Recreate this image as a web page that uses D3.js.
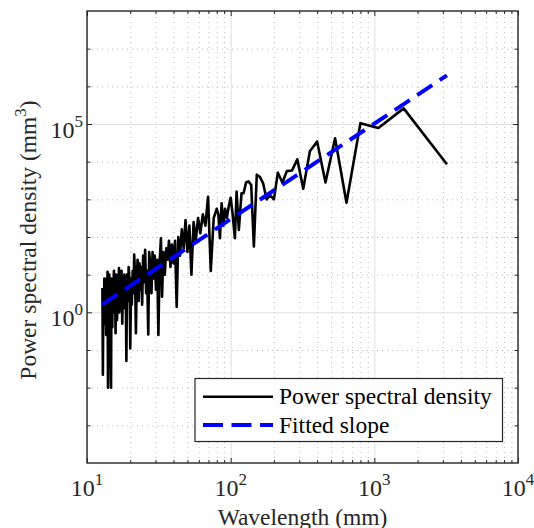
<!DOCTYPE html>
<html>
<head>
<meta charset="utf-8">
<script src="https://cdn.jsdelivr.net/npm/d3@7"></script>
<style>
  body { margin: 0; background: #fff; }
  svg text { font-family: "Liberation Serif", "Tinos", "DejaVu Serif", serif; fill: #262626; }
</style>
</head>
<body>
<div id="chart"></div>
<script>
// wavelength (mm) of each spectral estimate
var wavelength = [3200,1600,1067,800,640,533,457,400,356,320,291,267,246,229,213,200,188,178,168,160,
  152,145,139,133,128,123,119,114,110,107,103,100,97,94,91.4,88.9,86.5,84.2,82.1,80,
  76.2,72.7,69.6,66.7,64,61.5,59.3,57.1,55.2,53.3,51.6,50,48.5,47.1,45.7,44.4,43.2,42.1,41,40,
  39,38.1,37.2,36.4,35.6,34.8,34,33.3,32.7,32,31.4,30.8,30.2,29.6,29.1,28.6,28.1,27.6,27.1,26.7,
  26.2,25.8,25.4,25,24.6,24.2,23.9,23.5,23.2,22.9,22.5,22.2,21.9,21.6,21.3,21.1,20.8,20.5,20.3,20,
  19.8,19.5,19.3,19,18.8,18.6,18.4,18.2,18,17.8,17.6,17.4,17.2,17,16.8,16.7,16.5,16.3,16.2,16,
  15.8,15.7,15.5,15.4,15.2,15.1,15,14.8,14.7,14.5,14.4,14.3,14.2,14,13.9,13.8,13.7,13.6,13.4,13.3,
  13.2,13.1,13,12.9,12.8];

// power spectral density (mm^3)
var psd = [8.5e3,2.6e5,7.8e4,1.05e5,810,4.2e4,2.8e3,3.4e4,1.9e4,1.9e3,1.15e4,5.8e3,5.6e3,2.8e3,5.1e3,1.0e3,1.3e3,1.0e3,2.7e3,3.9e3,
  4.5e3,56,2.4e3,3.0e3,2.8e3,1.45e3,1.45e3,155,1.6e3,93,430,1.1e3,650,320,560,200,790,93,400,560,
  320,12.6,1170,200,400,126,320,79,250,10,200,40,280,50,160,32,100,1.4,79,20,
  63,16,79,25,50,10,40,2.6,93,20,0.25,25,4,32,7.9,40,3.2,16,40,0.26,
  12.6,3.2,46,6.3,32,1.6,16,4,20,2,25,7.9,0.28,10,34,3.2,12.6,1.6,7.9,0.11,
  6.3,16,2,10,0.051,5,1.26,10,2.5,7.9,0.5,12.6,1.6,6.3,1,15,2,7.9,0.63,10,
  0.28,5,1,12.6,2,6.3,0.4,7.9,0.01,4,0.63,10,1.26,0.01,12,2,7.9,0.25,6.3,1.6,
  7.9,0.5,3.2,0.022,4.4];

// fitted power-law slope (end points)
var fitWavelength = [12.8, 3200];
var fitPsd = [1.63, 1.95e6];

// ticks
var xTicks = [10, 100, 1000, 10000];
var xTickExp = ["1", "2", "3", "4"];
var yTicks = [1, 1e5];
var yTickExp = ["0", "5"];
var legendLabels = ["Power spectral density", "Fitted slope"];

var W = 534, H = 528;
var plotL = 87, plotR = 518, plotT = 11, plotB = 463;
var serif = '"Liberation Serif", "Tinos", "DejaVu Serif", serif';

var svg = d3.select("#chart").append("svg")
    .attr("width", W)
    .attr("height", H);

var x = d3.scaleLog().domain([10, 1e4]).range([plotL, plotR]);
var y = d3.scaleLog().domain([1e-4, 1e8]).range([plotB, plotT]);

// minor tick positions
var xMinor = [];
[10, 100, 1000].forEach(function(d) {
  for (var m = 2; m <= 9; m++) xMinor.push(d * m);
});
var yMinor = [];
for (var e = -3; e <= 7; e++) {
  if (e !== 0 && e !== 5) yMinor.push(Math.pow(10, e));
}

// grid
function grid(g, dash, color) {
  g.select(".domain").remove();
  g.selectAll("line").attr("stroke", color).attr("stroke-width", 1).attr("stroke-dasharray", dash);
}
svg.append("g")
  .attr("transform", "translate(0," + plotB + ")")
  .call(d3.axisBottom(x).tickValues(xMinor).tickSize(-(plotB - plotT)).tickFormat(""))
  .call(grid, "1,4", "#bdbdbd");
svg.append("g")
  .attr("transform", "translate(" + plotL + ",0)")
  .call(d3.axisLeft(y).tickValues(yMinor).tickSize(-(plotR - plotL)).tickFormat(""))
  .call(grid, "1,4", "#bdbdbd");
svg.append("g")
  .attr("transform", "translate(0," + plotB + ")")
  .call(d3.axisBottom(x).tickValues(xTicks).tickSize(-(plotB - plotT)).tickFormat(""))
  .call(grid, null, "#dfdfdf");
svg.append("g")
  .attr("transform", "translate(" + plotL + ",0)")
  .call(d3.axisLeft(y).tickValues(yTicks).tickSize(-(plotR - plotL)).tickFormat(""))
  .call(grid, null, "#dfdfdf");

// data
var pts = wavelength.map(function(d, i) { return [d, psd[i]]; });
var line = d3.line()
  .x(function(d) { return x(d[0]); })
  .y(function(d) { return y(d[1]); });

svg.append("path")
  .datum(pts)
  .attr("fill", "none")
  .attr("stroke", "#000")
  .attr("stroke-width", 2.6)
  .attr("stroke-linejoin", "round")
  .attr("d", line);

var fitPts = fitWavelength.map(function(d, i) { return [d, fitPsd[i]]; });
svg.append("path")
  .datum(fitPts)
  .attr("fill", "none")
  .attr("stroke", "#0000ff")
  .attr("stroke-width", 4)
  .attr("stroke-dasharray", "18,9")
  .attr("d", line);

// ticks (inside, on all four sides)
function ticks(g) {
  g.select(".domain").remove();
  g.selectAll("line").attr("stroke", "#262626").attr("stroke-width", 1);
}
svg.append("g").attr("transform", "translate(0," + plotB + ")")
  .call(d3.axisBottom(x).tickValues(xTicks).tickSize(-5).tickFormat("")).call(ticks);
svg.append("g").attr("transform", "translate(0," + plotB + ")")
  .call(d3.axisBottom(x).tickValues(xMinor).tickSize(-3).tickFormat("")).call(ticks);
svg.append("g").attr("transform", "translate(0," + plotT + ")")
  .call(d3.axisTop(x).tickValues(xTicks).tickSize(-5).tickFormat("")).call(ticks);
svg.append("g").attr("transform", "translate(0," + plotT + ")")
  .call(d3.axisTop(x).tickValues(xMinor).tickSize(-3).tickFormat("")).call(ticks);
svg.append("g").attr("transform", "translate(" + plotL + ",0)")
  .call(d3.axisLeft(y).tickValues(yTicks).tickSize(-5).tickFormat("")).call(ticks);
svg.append("g").attr("transform", "translate(" + plotL + ",0)")
  .call(d3.axisLeft(y).tickValues(yMinor).tickSize(-3.5).tickFormat("")).call(ticks);
svg.append("g").attr("transform", "translate(" + plotR + ",0)")
  .call(d3.axisRight(y).tickValues(yTicks).tickSize(-5).tickFormat("")).call(ticks);
svg.append("g").attr("transform", "translate(" + plotR + ",0)")
  .call(d3.axisRight(y).tickValues(yMinor).tickSize(-3.5).tickFormat("")).call(ticks);

// box
svg.append("rect")
  .attr("x", plotL).attr("y", plotT)
  .attr("width", plotR - plotL).attr("height", plotB - plotT)
  .attr("fill", "none")
  .attr("stroke", "#262626")
  .attr("stroke-width", 1.4);

// tick labels
xTicks.forEach(function(v, i) {
  var t = svg.append("text")
    .attr("x", x(v)).attr("y", plotB + 33)
    .attr("text-anchor", "middle")
    .attr("font-family", serif)
    .style("font-size", "24px");
  t.append("tspan").text("10");
  t.append("tspan").attr("dy", -11).style("font-size", "17px").text(xTickExp[i]);
});
yTicks.forEach(function(v, i) {
  var t = svg.append("text")
    .attr("x", plotL - 4).attr("y", y(v) + 14)
    .attr("text-anchor", "end")
    .attr("font-family", serif)
    .style("font-size", "24px");
  t.append("tspan").text("10");
  t.append("tspan").attr("dy", -11).style("font-size", "17px").text(yTickExp[i]);
});

// axis labels
svg.append("text")
  .attr("x", (plotL + plotR) / 2).attr("y", 525)
  .attr("text-anchor", "middle")
  .attr("font-family", serif)
  .style("font-size", "23.5px")
  .text("Wavelength (mm)");

var yl = svg.append("text")
  .attr("transform", "translate(36," + ((plotT + plotB) / 2 + 3) + ") rotate(-90)")
  .attr("text-anchor", "middle")
  .attr("font-family", serif)
  .style("font-size", "23.5px");
yl.append("tspan").text("Power spectral density (mm");
yl.append("tspan").attr("dy", -10).style("font-size", "17px").text("3");
yl.append("tspan").attr("dy", 10).text(")");

// legend
var lg = svg.append("g");
lg.append("rect")
  .attr("x", 195).attr("y", 378.5)
  .attr("width", 307.5).attr("height", 63)
  .attr("fill", "#fff")
  .attr("stroke", "#262626")
  .attr("stroke-width", 1.2);
var rows = [396.7, 425];
lg.append("line")
  .attr("x1", 203).attr("x2", 273).attr("y1", rows[0]).attr("y2", rows[0])
  .attr("stroke", "#000").attr("stroke-width", 2.4);
lg.append("line")
  .attr("x1", 203).attr("x2", 273).attr("y1", rows[1]).attr("y2", rows[1])
  .attr("stroke", "#0000ff").attr("stroke-width", 4).attr("stroke-dasharray", "20,8.5");
legendLabels.forEach(function(s, i) {
  lg.append("text")
    .attr("x", 279).attr("y", rows[i] + 7.6)
    .attr("font-family", serif)
    .style("font-size", "23.5px")
    .style("fill", "#000")
    .text(s);
});
</script>
</body>
</html>
